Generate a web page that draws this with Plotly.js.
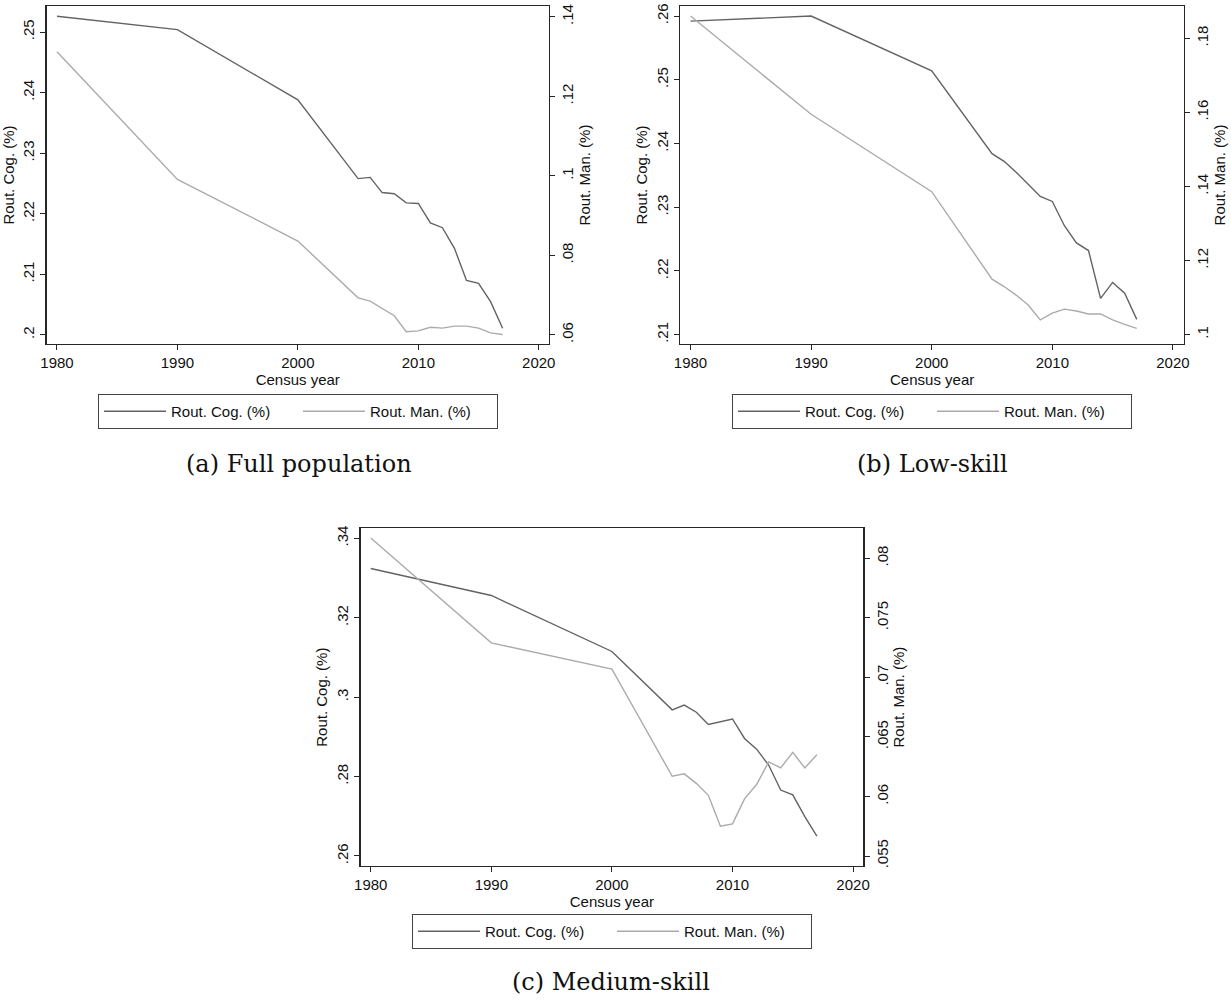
<!DOCTYPE html>
<html>
<head>
<meta charset="utf-8">
<script src="https://cdn.plot.ly/plotly-3.0.1.min.js"></script>
<style>html,body{margin:0;padding:0;background:#fff;}#chart{width:1231px;height:1001px;}</style>
</head>
<body>
<div id="chart"></div>
<script>
// ---- data ----
const years = [1980, 1990, 2000, 2005, 2006, 2007, 2008, 2009, 2010, 2011, 2012, 2013, 2014, 2015, 2016, 2017];

const fullCog = [0.2526, 0.2504, 0.2388, 0.2258, 0.2260, 0.2235, 0.2233, 0.2218, 0.2217, 0.2185, 0.2177, 0.2143, 0.2090, 0.2085, 0.2055, 0.2011];
const fullMan = [0.1312, 0.0991, 0.0836, 0.0693, 0.0685, 0.0666, 0.0648, 0.0608, 0.0610, 0.0619, 0.0617, 0.0622, 0.0622, 0.0617, 0.0605, 0.0601];

const lowCog = [0.2592, 0.2600, 0.2514, 0.2384, 0.2372, 0.2355, 0.2336, 0.2317, 0.2309, 0.2271, 0.2244, 0.2232, 0.2157, 0.2182, 0.2165, 0.2124];
const lowMan = [0.1860, 0.1595, 0.1386, 0.1150, 0.1130, 0.1107, 0.1080, 0.1040, 0.1058, 0.1069, 0.1064, 0.1056, 0.1056, 0.1040, 0.1028, 0.1017];

const medCog = [0.3324, 0.3256, 0.3115, 0.2968, 0.2980, 0.2962, 0.2931, 0.2938, 0.2945, 0.2896, 0.2869, 0.2829, 0.2766, 0.2754, 0.2699, 0.2650];
const medMan = [0.0817, 0.0729, 0.0707, 0.0617, 0.0619, 0.0611, 0.0601, 0.0575, 0.0577, 0.0598, 0.0610, 0.0629, 0.0624, 0.0637, 0.0624, 0.0635];

const xTicks = [1980, 1990, 2000, 2010, 2020];
const fullCogTicks = [0.20, 0.21, 0.22, 0.23, 0.24, 0.25];
const fullCogLabels = [".2", ".21", ".22", ".23", ".24", ".25"];
const fullManTicks = [0.06, 0.08, 0.10, 0.12, 0.14];
const fullManLabels = [".06", ".08", ".1", ".12", ".14"];
const lowCogTicks = [0.21, 0.22, 0.23, 0.24, 0.25, 0.26];
const lowCogLabels = [".21", ".22", ".23", ".24", ".25", ".26"];
const lowManTicks = [0.10, 0.12, 0.14, 0.16, 0.18];
const lowManLabels = [".1", ".12", ".14", ".16", ".18"];
const medCogTicks = [0.26, 0.28, 0.30, 0.32, 0.34];
const medCogLabels = [".26", ".28", ".3", ".32", ".34"];
const medManTicks = [0.055, 0.06, 0.065, 0.07, 0.075, 0.08];
const medManLabels = [".055", ".06", ".065", ".07", ".075", ".08"];

const nameCog = "Rout. Cog. (%)";
const nameMan = "Rout. Man. (%)";
const xTitle = "Census year";
const captions = ["(a) Full population", "(b) Low-skill", "(c) Medium-skill"];

// ---- styles ----
const W = 1231, H = 1001;
const darkCol = "#636363", lightCol = "#ababab", frameCol = "#262626";
const sans = "Liberation Sans, Arial, sans-serif";
const serif = "DejaVu Serif, serif";
const px = v => v / W;
const py = v => 1 - v / H;

function trace(y, name, xa, ya, col, leg) {
  return {x: years, y: y, name: name, type: "scatter", mode: "lines",
    xaxis: xa, yaxis: ya, legend: leg, showlegend: true,
    line: {color: col, width: 1.4}};
}

const data = [
  trace(fullCog, nameCog, "x", "y", darkCol, "legend"),
  trace(fullMan, nameMan, "x", "y2", lightCol, "legend"),
  trace(lowCog, nameCog, "x2", "y3", darkCol, "legend2"),
  trace(lowMan, nameMan, "x2", "y4", lightCol, "legend2"),
  trace(medCog, nameCog, "x3", "y5", darkCol, "legend3"),
  trace(medMan, nameMan, "x3", "y6", lightCol, "legend3")
];

function xax(dom, range, anchor) {
  return {domain: dom, range: range, anchor: anchor, tickvals: xTicks,
    showgrid: false, zeroline: false, showline: true, mirror: true,
    linecolor: frameCol, linewidth: 1.2, ticks: "outside", ticklen: 5,
    tickcolor: frameCol, tickfont: {family: sans, size: 15, color: "#111"},
    title: {text: xTitle, font: {family: sans, size: 15, color: "#111"}, standoff: 1}};
}
function yax(dom, range, anchor, tv, tt, side, overlay) {
  const o = {domain: dom, range: range, anchor: anchor, side: side,
    tickvals: tv, ticktext: tt, tickangle: -90,
    showgrid: false, zeroline: false, showline: true,
    linecolor: frameCol, linewidth: 1.2, ticks: "outside", ticklen: 5,
    tickcolor: frameCol, tickfont: {family: sans, size: 15, color: "#111"},
    title: {text: side === "left" ? nameCog : nameMan,
      font: {family: sans, size: 15, color: "#111"}, standoff: 3}};
  if (overlay) o.overlaying = overlay;
  return o;
}

const yA = [py(344), py(6)];
const yC = [py(866), py(528.3)];

function legendBox(xc, ytop) {
  return {orientation: "h", x: px(xc), xanchor: "center", y: py(ytop), yanchor: "top",
    bordercolor: "#444", borderwidth: 1, bgcolor: "#fff",
    font: {family: sans, size: 15, color: "#111"}, entrywidth: 122, itemwidth: 62,
    tracegroupgap: 0};
}

function caption(text, xc, yc) {
  return {text: text, x: px(xc), y: py(yc), xref: "paper", yref: "paper",
    xanchor: "center", yanchor: "middle", showarrow: false,
    font: {family: serif, size: 24, color: "#111"}};
}

const layout = {
  width: W, height: H, margin: {l: 0, r: 0, t: 0, b: 0},
  paper_bgcolor: "#fff", plot_bgcolor: "#fff",
  xaxis: xax([px(46.5), px(549)], [1979.13, 2020.85], "y"),
  yaxis: yax(yA, [0.1985, 0.2543], "x", fullCogTicks, fullCogLabels, "left"),
  yaxis2: yax(yA, [0.0577, 0.1427], "x", fullManTicks, fullManLabels, "right", "y"),
  xaxis2: xax([px(680.4), px(1183.9)], [1979.16, 2020.91], "y3"),
  yaxis3: yax(yA, [0.20854, 0.26157], "x2", lowCogTicks, lowCogLabels, "left"),
  yaxis4: yax(yA, [0.09749, 0.18872], "x2", lowManTicks, lowManLabels, "right", "y3"),
  xaxis3: xax([px(360.5), px(863.3)], [1979.15, 2020.85], "y5"),
  yaxis5: yax(yC, [0.25748, 0.34252], "x3", medCogTicks, medCogLabels, "left"),
  yaxis6: yax(yC, [0.05416, 0.08252], "x3", medManTicks, medManLabels, "right", "y5"),
  legend: legendBox(298, 394),
  legend2: legendBox(932, 394),
  legend3: legendBox(612, 914),
  annotations: [
    caption(captions[0], 299, 464),
    caption(captions[1], 932, 464),
    caption(captions[2], 611, 982)
  ]
};

Plotly.newPlot("chart", data, layout, {displayModeBar: false, staticPlot: true});
</script>
</body>
</html>
